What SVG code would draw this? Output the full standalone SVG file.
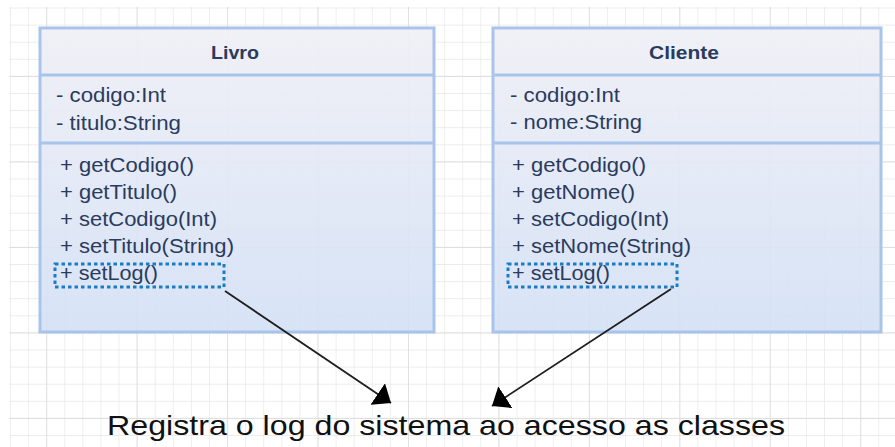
<svg xmlns="http://www.w3.org/2000/svg" width="895" height="447" viewBox="0 0 895 447">
  <style>
    .box { fill: url(#boxFill); stroke: #a9c4eb; stroke-width: 3; }
    .sep { stroke: #a9c4eb; stroke-width: 3; }
    .title { font-family: "Liberation Sans", Arial, sans-serif; font-size: 19px; font-weight: bold; fill: #2a3b5e; text-anchor: middle; }
    .member { font-family: "Liberation Sans", Arial, sans-serif; font-size: 19.5px; fill: #2a3b5e; }
    .focus { fill: none; stroke: #1b7cc4; stroke-width: 3; stroke-dasharray: 3.5 3; }
    .link { fill: none; stroke: #1e1e1e; stroke-width: 1.8; marker-end: url(#head); }
    .note { font-family: "Liberation Sans", Arial, sans-serif; font-size: 28px; fill: #111111; }
  </style>
  <defs>
    <linearGradient id="boxFill" x1="0" y1="0" x2="0" y2="1">
      <stop offset="0" stop-color="#f0f0f6" stop-opacity="0.95"/>
      <stop offset="1" stop-color="#d3e0f5" stop-opacity="0.9"/>
    </linearGradient>
    <pattern id="minor" x="10" y="7.5" width="18.09" height="17.1" patternUnits="userSpaceOnUse">
      <path d="M0,0 H18.09 M0,0 V17.1" fill="none" stroke="#e6e6e6" stroke-width="1.3"/>
    </pattern>
    <pattern id="major" x="46.18" y="75.9" width="90.45" height="85.5" patternUnits="userSpaceOnUse">
      <path d="M0,0 H90.45 M0,0 V85.5" fill="none" stroke="#d9d9d9" stroke-width="1.3"/>
    </pattern>
    <marker id="head" viewBox="0 -13 16 26" markerWidth="16" markerHeight="26" refX="16" refY="0" orient="auto" markerUnits="userSpaceOnUse">
      <path d="M0,-13 L16,0 L0,13 Z" fill="#000000"/>
    </marker>
  </defs>

  <!-- page background with drawing grid -->
  <rect x="0" y="0" width="895" height="447" fill="#ffffff"/>
  <rect x="9.4" y="6.9" width="886" height="441" fill="url(#minor)"/>
  <rect x="9.4" y="6.9" width="886" height="441" fill="url(#major)"/>

  <!-- class Livro -->
  <g id="livro">
    <rect class="box" x="40" y="28" width="394" height="304"/>
    <line class="sep" x1="40" y1="75" x2="434" y2="75"/>
    <line class="sep" x1="40" y1="143" x2="434" y2="143"/>
    <text class="title" x="235" y="59" textLength="48" lengthAdjust="spacingAndGlyphs">Livro</text>
    <text class="member" x="56" y="102" textLength="110" lengthAdjust="spacingAndGlyphs">- codigo:Int</text>
    <text class="member" x="56" y="130" textLength="125" lengthAdjust="spacingAndGlyphs">- titulo:String</text>
    <text class="member" x="60" y="172" textLength="134" lengthAdjust="spacingAndGlyphs">+ getCodigo()</text>
    <text class="member" x="60" y="199" textLength="117" lengthAdjust="spacingAndGlyphs">+ getTitulo()</text>
    <text class="member" x="60" y="226" textLength="157" lengthAdjust="spacingAndGlyphs">+ setCodigo(Int)</text>
    <text class="member" x="60" y="253" textLength="174" lengthAdjust="spacingAndGlyphs">+ setTitulo(String)</text>
    <text class="member" x="60" y="280" textLength="98" lengthAdjust="spacingAndGlyphs">+ setLog()</text>
    <rect class="focus" x="55" y="264" width="169" height="23"/>
  </g>

  <!-- class Cliente -->
  <g id="cliente">
    <rect class="box" x="493" y="28" width="388" height="304"/>
    <line class="sep" x1="493" y1="75" x2="881" y2="75"/>
    <line class="sep" x1="493" y1="143" x2="881" y2="143"/>
    <text class="title" x="684" y="59" textLength="70" lengthAdjust="spacingAndGlyphs">Cliente</text>
    <text class="member" x="510" y="102" textLength="110" lengthAdjust="spacingAndGlyphs">- codigo:Int</text>
    <text class="member" x="510" y="129" textLength="132" lengthAdjust="spacingAndGlyphs">- nome:String</text>
    <text class="member" x="512" y="172" textLength="134" lengthAdjust="spacingAndGlyphs">+ getCodigo()</text>
    <text class="member" x="512" y="199" textLength="123" lengthAdjust="spacingAndGlyphs">+ getNome()</text>
    <text class="member" x="512" y="226" textLength="157" lengthAdjust="spacingAndGlyphs">+ setCodigo(Int)</text>
    <text class="member" x="512" y="253" textLength="179" lengthAdjust="spacingAndGlyphs">+ setNome(String)</text>
    <text class="member" x="512" y="280" textLength="98" lengthAdjust="spacingAndGlyphs">+ setLog()</text>
    <rect class="focus" x="508" y="264" width="169" height="23"/>
  </g>

  <!-- note text -->
  <g id="nota">
    <text class="note" x="107" y="435" textLength="678" lengthAdjust="spacingAndGlyphs">Registra o log do sistema ao acesso as classes</text>
  </g>

  <!-- connectors from setLog() to the note -->
  <g id="connectors">
    <line class="link" x1="225" y1="291" x2="391" y2="403"/>
    <line class="link" x1="671" y1="289" x2="492" y2="406"/>
  </g>
</svg>
